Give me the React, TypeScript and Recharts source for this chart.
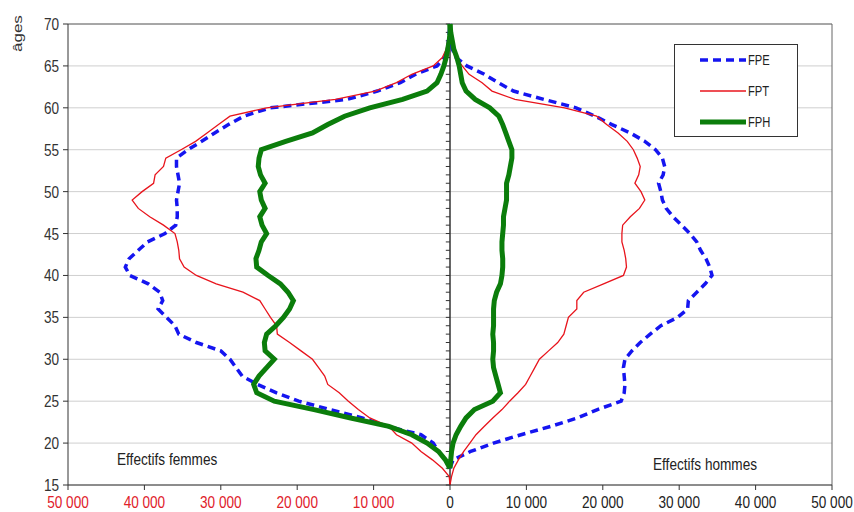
import { LineChart, Line, XAxis, YAxis, CartesianGrid, ReferenceLine } from "recharts";

// ages 15..70, values in thousands (women negative)
const ages = [
  15, 16, 17, 18, 19, 20, 21, 22, 23, 24, 25, 26, 27, 28, 29, 30, 31, 32, 33, 34,
  35, 36, 37, 38, 39, 40, 41, 42, 43, 44, 45, 46, 47, 48, 49, 50, 51, 52, 53, 54,
  55, 56, 57, 58, 59, 60, 61, 62, 63, 64, 65, 66, 67, 68, 69, 70,
];

const fpeFemmes = [
  null, null, 0, -0.6, -1.5, -2.2, -3.8, -8.2, -11.5, -15.7,
  -19.8, -22.7, -25.2, -27.2, -28.0, -28.8, -30.0, -33.2, -35.5, -36.0,
  -37.1, -38.2, -37.6, -38.0, -39.5, -41.9, -42.5, -42.0, -40.8, -39.6,
  -37.3, -35.9, -35.7, -35.7, -35.8, -35.6, -35.4, -35.6, -35.8, -35.8,
  -34.3, -32.5, -30.8, -29.0, -27.0, -23.5, -13.5, -9.5, -6.5, -4.5,
  -1.7, -0.7, -0.3, -0.2, -0.1, 0,
];

const fptFemmes = [
  0, -0.1, -1.0, -2.3, -3.8, -5.0, -7.0, -8.0, -10.5, -12.0,
  -13.3, -14.5, -16.0, -16.4, -17.2, -18.0, -19.5, -21.0, -22.6, -22.7,
  -23.5, -24.2, -24.9, -27.1, -30.6, -33.2, -34.8, -35.4, -35.5, -35.7,
  -36.0, -37.5, -39.3, -40.8, -41.6, -40.3, -38.8, -38.6, -37.5, -37.2,
  -35.2, -33.3, -31.8, -30.3, -28.8, -24.0, -15.0, -9.8, -7.0, -5.0,
  -2.2, -1.0, -0.5, -0.3, -0.1, 0,
];

const fphFemmes = [
  null, null, 0, -0.6, -1.5, -3.0, -5.0, -8.0, -13.0, -17.8,
  -23.0, -25.3, -25.7, -25.0, -24.0, -23.0, -24.2, -24.3, -24.0, -22.8,
  -21.8, -21.0, -20.5, -21.2, -22.2, -23.8, -25.3, -25.4, -25.0, -24.7,
  -24.0, -24.6, -24.9, -24.2, -24.7, -24.9, -24.2, -24.8, -25.1, -25.0,
  -24.7, -21.5, -18.0, -16.0, -13.8, -10.5, -6.2, -3.0, -1.7, -1.2,
  -0.8, -0.5, -0.3, -0.1, 0, 0,
];

const fpeHommes = [
  null, null, 0, 0.4, 2.7, 5.7, 9.3, 13.2, 16.7, 19.3,
  22.4, 22.8, 22.9, 22.8, 22.7, 22.9, 23.8, 24.9, 26.2, 27.6,
  29.8, 31.1, 31.2, 32.3, 33.4, 34.3, 34.0, 33.5, 32.8, 32.3,
  31.4, 30.3, 29.2, 28.3, 27.8, 27.6, 27.3, 27.9, 28.1, 27.8,
  26.9, 25.5, 23.6, 21.2, 19.0, 16.5, 12.3, 8.3, 6.3, 4.5,
  2.2, 0.8, 0.3, 0.2, 0.1, 0,
];

const fptHommes = [
  0, 0.2, 0.5, 1.1, 1.8, 2.6, 3.4, 4.5, 5.6, 6.8,
  7.8, 8.9, 9.9, 10.5, 11.1, 11.7, 12.9, 14.1, 14.9, 15.2,
  15.5, 16.6, 16.6, 17.5, 20.1, 22.7, 23.1, 23.0, 22.8, 22.5,
  22.5, 22.6, 23.6, 24.8, 25.5, 25.0, 24.2, 24.7, 24.9, 24.5,
  24.0, 23.2, 22.0, 20.5, 19.2, 15.0, 8.5, 5.5, 4.2, 2.5,
  1.6, 0.8, 0.4, 0.2, 0.1, 0,
];

const fphHommes = [
  null, null, 0, 0.1, 0.2, 0.4, 0.8, 1.4, 2.1, 3.2,
  5.6, 6.6, 6.3, 6.0, 5.7, 5.6, 5.7, 5.7, 5.6, 5.7,
  5.7, 5.7, 5.8, 6.1, 6.6, 6.8, 6.9, 6.9, 6.8, 6.8,
  6.9, 7.0, 7.0, 7.2, 7.4, 7.4, 7.4, 7.7, 7.9, 8.1,
  8.1, 7.7, 7.3, 6.9, 6.4, 5.2, 3.3, 2.1, 1.6, 1.4,
  1.2, 0.9, 0.5, 0.3, 0.1, 0,
];

const xTicks = [-50, -40, -30, -20, -10, 0, 10, 20, 30, 40, 50];
const yTicks = [15, 20, 25, 30, 35, 40, 45, 50, 55, 60, 65, 70];

const series = [
  { name: "FPE", femmes: "fpeF", hommes: "fpeH", color: "#1515f0", width: 3.5, dash: "8 5" },
  { name: "FPT", femmes: "fptF", hommes: "fptH", color: "#e8141c", width: 1.3, dash: undefined },
  { name: "FPH", femmes: "fphF", hommes: "fphH", color: "#0b7d0b", width: 5, dash: undefined },
];

const data = ages.map((age, i) => ({
  age,
  fpeF: fpeFemmes[i],
  fptF: fptFemmes[i],
  fphF: fphFemmes[i],
  fpeH: fpeHommes[i],
  fptH: fptHommes[i],
  fphH: fphHommes[i],
}));

const FONT = "'Liberation Sans', Arial, sans-serif";
const SQUEEZE = 0.8;

function XTick(props: any) {
  const { x, y, payload } = props;
  const v = payload.value;
  const label = v === 0 ? "0" : `${Math.abs(v)} 000`;
  return (
    <text
      transform={`translate(${x},${y + 16}) scale(${SQUEEZE},1)`}
      textAnchor="middle"
      fontSize={17}
      fontFamily={FONT}
      fill={v < 0 ? "#e0202a" : "#222"}
    >
      {label}
    </text>
  );
}

function YTick(props: any) {
  const { x, y, payload } = props;
  return (
    <text
      transform={`translate(${x - 2},${y + 6}) scale(${SQUEEZE},1)`}
      textAnchor="end"
      fontSize={17}
      fontFamily={FONT}
      fill="#333"
    >
      {payload.value}
    </text>
  );
}

const squeezed = {
  position: "absolute" as const,
  fontSize: 17,
  color: "#222",
  whiteSpace: "nowrap" as const,
  transform: `scaleX(${SQUEEZE})`,
  transformOrigin: "left top",
};

export default function App() {
  return (
    <div style={{ position: "absolute", left: 0, top: 0, width: 854, height: 512, background: "#fff", fontFamily: FONT }}>
      <LineChart width={854} height={512} data={data} layout="vertical" margin={{ top: 24, right: 22, left: 8, bottom: 2 }}>
        <CartesianGrid vertical={false} stroke="#cfcfcf" />
        <XAxis
          type="number"
          domain={[-50, 50]}
          ticks={xTicks}
          interval={0}
          height={25}
          tick={<XTick />}
          tickSize={5}
          axisLine={{ stroke: "#333" }}
          tickLine={{ stroke: "#333" }}
        />
        <YAxis
          type="number"
          dataKey="age"
          domain={[15, 70]}
          ticks={yTicks}
          interval={0}
          reversed
          width={60}
          tickSize={5}
          tick={<YTick />}
          axisLine={{ stroke: "#333" }}
          tickLine={{ stroke: "#333" }}
        />
        <ReferenceLine y={70} stroke="#666" />
        <ReferenceLine x={50} stroke="#666" />
        <ReferenceLine x={0} stroke="#333" strokeWidth={1.5} />
        {ages.map((a) => (
          <ReferenceLine key={a} segment={[{ x: -0.55, y: a }, { x: 0, y: a }]} stroke="#333" />
        ))}
        {series.map((s) => (
          <Line
            key={s.femmes}
            dataKey={s.femmes}
            type="linear"
            stroke={s.color}
            strokeWidth={s.width}
            strokeDasharray={s.dash}
            dot={false}
            isAnimationActive={false}
          />
        ))}
        {series.map((s) => (
          <Line
            key={s.hommes}
            dataKey={s.hommes}
            type="linear"
            stroke={s.color}
            strokeWidth={s.width}
            strokeDasharray={s.dash}
            dot={false}
            isAnimationActive={false}
          />
        ))}
      </LineChart>

      <div style={{ position: "absolute", left: 674, top: 44, width: 124, height: 93, boxSizing: "border-box", border: "1px solid #333", background: "#fff" }}>
        {series.map((s, i) => (
          <div key={s.name} style={{ position: "absolute", left: 24, top: 7 + i * 31, display: "flex", alignItems: "center", height: 16 }}>
            <svg width={48} height={10}>
              <line x1={1} y1={5} x2={47} y2={5} stroke={s.color} strokeWidth={s.width} strokeDasharray={s.dash} />
            </svg>
            <span style={{ marginLeft: 1, fontSize: 14, color: "#222", display: "inline-block", transform: "scaleX(0.8)", transformOrigin: "left center" }}>{s.name}</span>
          </div>
        ))}
      </div>

      <div style={{ position: "absolute", left: 10, top: 52, transform: "rotate(-90deg) scaleY(0.8)", transformOrigin: "left top", fontSize: 17, color: "#333", whiteSpace: "nowrap" }}>
        âges
      </div>
      <div style={{ ...squeezed, left: 117, top: 450 }}>Effectifs femmes</div>
      <div style={{ ...squeezed, left: 653, top: 455 }}>Effectifs hommes</div>
    </div>
  );
}
